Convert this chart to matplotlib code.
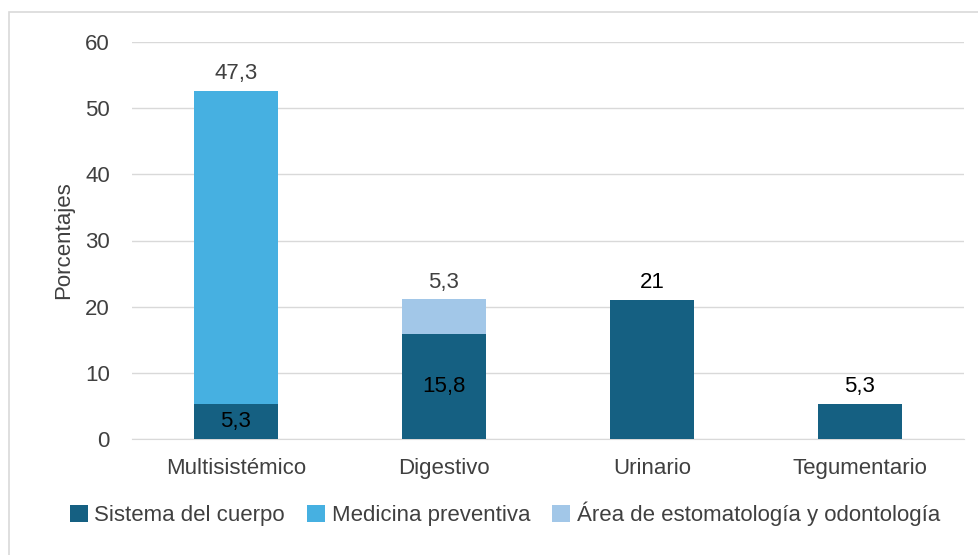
import numpy as np
import matplotlib.pyplot as plt
from matplotlib.patches import Rectangle

plt.rcParams['font.family'] = ['Liberation Sans', 'DejaVu Sans']

categorias = ['Multisistémico', 'Digestivo', 'Urinario', 'Tegumentario']
sistema = [5.3, 15.8, 21, 5.3]
medicina = [47.3, 0, 0, 0]
area = [0, 5.3, 0, 0]
series = ['Sistema del cuerpo', 'Medicina preventiva', 'Área de estomatología y odontología']
colores = ['#156082', '#46B0E1', '#A2C7E8']

fig = plt.figure(figsize=(9.79, 5.55), dpi=100)
ax = fig.add_axes([132/979, 116/555, 832/979, 397/555])
fig.patches.append(Rectangle((9/979, -0.01), 1, 1 - 12/555 + 0.01, transform=fig.transFigure,
                             fill=False, edgecolor='#D9D9D9', linewidth=1.2))

x = np.arange(len(categorias))
w = 0.404
sistema = np.array(sistema)
medicina = np.array(medicina)
area = np.array(area)
ax.bar(x, sistema, w, color=colores[0], label=series[0], zorder=3)
ax.bar(x, medicina, w, bottom=sistema, color=colores[1], label=series[1], zorder=3)
ax.bar(x, area, w, bottom=sistema + medicina, color=colores[2], label=series[2], zorder=3)

fs = 16
tc = '#404040'
def fmt(v):
    return ('%g' % v).replace('.', ',')

for i in range(len(categorias)):
    total = sistema[i] + medicina[i] + area[i]
    if medicina[i] > 0 or area[i] > 0:
        ax.text(x[i], sistema[i] / 2, fmt(sistema[i]), ha='center', va='center', fontsize=fs, color='black', zorder=4)
        top = medicina[i] if medicina[i] > 0 else area[i]
        ax.text(x[i], total + 1.0, fmt(top), ha='center', va='bottom', fontsize=fs, color=tc)
    else:
        ax.text(x[i], total + 1.0, fmt(sistema[i]), ha='center', va='bottom', fontsize=fs, color='black')

ax.set_xlim(-0.5, 3.5)
ax.set_ylim(0, 60)
ax.set_yticks(range(0, 61, 10))
ax.set_xticks(x)
ax.set_xticklabels(categorias)
ax.grid(axis='y', color='#D9D9D9', linewidth=1, zorder=0)
for s in ['top', 'right', 'left']:
    ax.spines[s].set_visible(False)
ax.spines['bottom'].set_color('#D9D9D9')
ax.tick_params(axis='y', length=0, labelsize=fs, colors=tc, pad=16)
ax.tick_params(axis='x', length=0, labelsize=fs, colors=tc, pad=14)
ax.set_ylabel('Porcentajes', fontsize=fs, color=tc, labelpad=8)

fig.legend(loc='center', bbox_to_anchor=(505/979, 1 - 514/555), ncol=3, frameon=False,
           fontsize=fs, labelcolor=tc, handlelength=0.8, handleheight=0.8,
           handletextpad=0.3, columnspacing=1.0)

fig.savefig('out.png', dpi=100)
